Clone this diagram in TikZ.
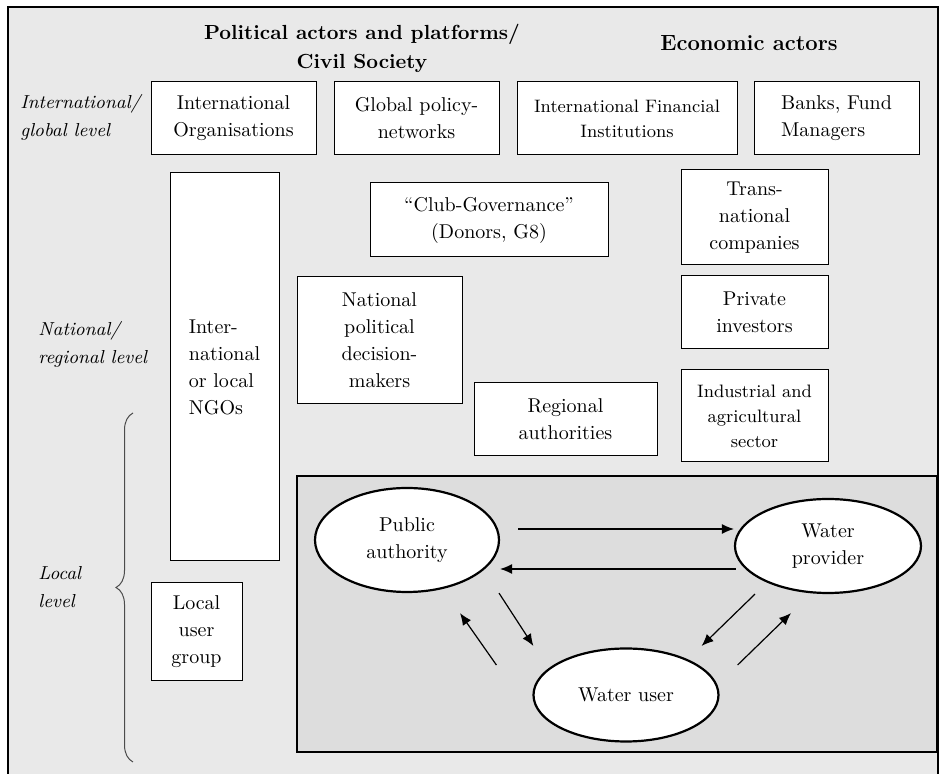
\documentclass[tikz,border=0pt]{standalone}
\usetikzlibrary{arrows.meta,shapes.geometric,decorations.pathreplacing}

\definecolor{framegray}{RGB}{233,233,233}
\definecolor{coregray}{RGB}{221,221,221}

\begin{document}
\begin{tikzpicture}[x=0.5pt, y=-0.5pt,
    actor/.style={draw, fill=white, line width=0.5pt, align=center, inner sep=2pt,
        font=\fontsize{10}{13.5}\selectfont},
    smallactor/.style={actor, font=\fontsize{9}{12.5}\selectfont},
    player/.style={ellipse, draw, fill=white, line width=1.1pt, align=center, inner sep=0pt,
        font=\fontsize{10}{13.5}\selectfont},
    level/.style={anchor=west, align=left, inner sep=0pt, font=\itshape\fontsize{9.4}{14}\selectfont},
    heading/.style={align=center, font=\bfseries\fontsize{10.2}{14.5}\selectfont},
    flow/.style={->, >={Latex[length=6pt,width=5pt]}, line width=0.6pt}]
    \useasboundingbox (0,0) rectangle (939,774);
    % frame
    \fill[framegray] (8,7) rectangle (938,774);
    \draw[line width=0.6pt] (8,774) -- (8,7) -- (938,7) -- (938,774);
    % column headings
    \node[heading] (polhead) at (362,48) {Political actors and platforms/\\Civil Society};
    \node[heading, font=\bfseries\fontsize{11}{14.5}\selectfont] (ecohead) at (749,43) {Economic actors};
    % levels
    \node[level] (intlevel) at (20,117) {International/\\global level};
    \node[level] (natlevel) at (38,344) {National/\\regional level};
    \node[level] (loclevel) at (38,587) {Local\\level};
    \draw[gray!60!black, line width=0.5pt, decorate, decoration={brace, amplitude=8.5pt}] (133,762) -- (133,413);
    % international row
    \node[actor, minimum width=82.5pt, minimum height=36.5pt] (io) at (233.5,118.5) {International\\Organisations};
    \node[actor, minimum width=82.5pt, minimum height=36.5pt] (gpn) at (416.5,118.5) {Global policy-\\networks};
    \node[smallactor, minimum width=110pt, minimum height=36.5pt] (ifi) at (627,118.5) {International Financial\\Institutions};
    \node[actor, align=left, minimum width=82.5pt, minimum height=36.5pt] (banks) at (836.5,118.5) {Banks, Fund\\Managers};
    % national and regional
    \node[actor, align=left, minimum width=54.5pt, minimum height=194pt] (ngo) at (224.5,367) {Inter-\\national\\or local\\NGOs};
    \node[actor, minimum width=119pt, minimum height=37pt] (club) at (489,220) {``Club-Governance''\\(Donors, G8)};
    \node[actor, minimum width=73.5pt, minimum height=47.5pt] (tnc) at (754.5,217.5) {Trans-\\national\\companies};
    \node[actor, minimum width=73.5pt, minimum height=36.5pt] (priv) at (754.5,312.5) {Private\\investors};
    \node[smallactor, minimum width=73.5pt, minimum height=46pt] (indag) at (754.5,416) {Industrial and\\agricultural\\sector};
    \node[actor, minimum width=82.5pt, minimum height=63.5pt] (npdm) at (379.5,340.5) {National\\political\\decision-\\makers};
    \node[actor, minimum width=91.5pt, minimum height=36.5pt] (reg) at (565.5,419.5) {Regional\\authorities};
    % local
    \node[actor, minimum width=45.5pt, minimum height=49pt] (lug) at (196.5,632) {Local\\user\\group};
    \draw[fill=coregray, line width=0.8pt] (297,476) rectangle (937,752);
    \node[player, minimum width=92pt, minimum height=52pt] (pa) at (407,540) {Public\\authority};
    \node[player, minimum width=93pt, minimum height=47pt] (wp) at (828,546) {Water\\provider};
    \node[player, minimum width=92.5pt, minimum height=46.5pt] (wu) at (626,695) {Water user};
    % flows between the three
    \draw[flow] ([xshift=9pt,yshift=5.5pt]pa.east) -- ([yshift=8.5pt]wp.west);
    \draw[flow] ([xshift=1pt,yshift=-11.5pt]wp.west) -- ([yshift=-14.5pt]pa.east);
    \draw[flow] ([xshift=46pt]pa.south) -- ([xshift=0.5pt,yshift=24.5pt]wu.west);
    \draw[flow] ([xshift=-18pt,yshift=15pt]wu.west) -- ([xshift=26.5pt,yshift=-10pt]pa.south);
    \draw[flow] ([xshift=-36.5pt]wp.south) -- ([xshift=-9pt,yshift=24.5pt]wu.east);
    \draw[flow] ([xshift=9pt,yshift=15pt]wu.east) -- ([xshift=-18.5pt,yshift=-9.5pt]wp.south);
\end{tikzpicture}
\end{document}
